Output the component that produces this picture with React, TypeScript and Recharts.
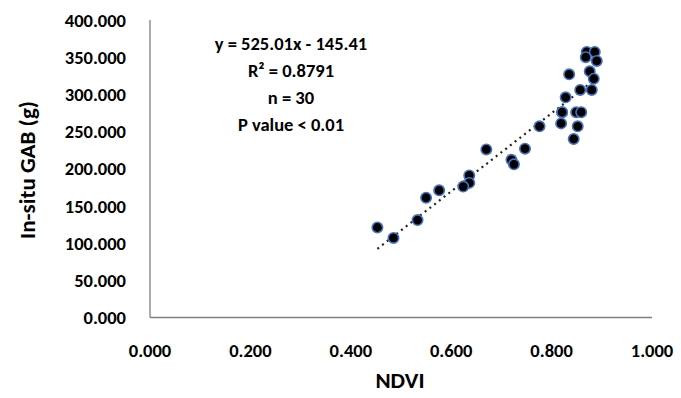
import React from 'react';
import { ScatterChart, Scatter, XAxis, YAxis, Label } from 'recharts';

const ndvi = [0.870, 0.886, 0.868, 0.890, 0.835, 0.876, 0.884, 0.857, 0.880, 0.828,
  0.821, 0.849, 0.859, 0.819, 0.852, 0.844, 0.776, 0.747, 0.670, 0.720,
  0.725, 0.636, 0.636, 0.624, 0.576, 0.550, 0.533, 0.453, 0.485, 0.821];
const gab = [357, 357, 350, 345, 327, 331, 321, 306, 306, 296,
  276, 276, 276, 261, 257, 240, 257, 227, 226, 212,
  206, 191, 181, 176, 171, 161, 131, 121, 107, 276];
const xTicks = [0, 0.2, 0.4, 0.6, 0.8, 1.0];
const yTicks = [0, 50, 100, 150, 200, 250, 300, 350, 400];
const slope = 525.01;
const intercept = -145.41;
const statLines = ['y = 525.01x - 145.41', 'R² = 0.8791', 'n = 30', 'P value < 0.01'];

const points = ndvi.map((x, i) => ({ x, y: gab[i] }));
const xMin = Math.min(...ndvi);
const xMax = Math.max(...ndvi);
const trend = [
  { x: xMin, y: slope * xMin + intercept },
  { x: xMax, y: slope * xMax + intercept },
];

const FONT = 'Carlito, Calibri, Lato, "DejaVu Sans", sans-serif';
const AXIS = '#7f7f7f';

const Dot = (props: any) => {
  const { cx, cy } = props;
  if (cx == null || cy == null) return null;
  return <circle cx={cx} cy={cy} r={5.2} fill="#000" stroke="#4472C4" strokeWidth={1.6} />;
};

export default function App() {
  return (
    <div style={{ position: 'absolute', left: 0, top: 0, width: 681, height: 398, background: '#fff' }}>
      <ScatterChart width={681} height={398} margin={{ top: 20, right: 29, bottom: 0, left: 0 }}>
        <XAxis
          type="number"
          dataKey="x"
          domain={[0, 1]}
          ticks={xTicks}
          tickFormatter={(v: number) => v.toFixed(3)}
          tickLine={false}
          tickSize={0}
          tickMargin={26}
          axisLine={{ stroke: AXIS, strokeWidth: 1.3 }}
          tick={{ fill: '#000', fontSize: 18.5, fontWeight: 700, fontFamily: FONT }}
          height={80.5}
          interval={0}
        >
          <Label
            content={() => (
              <text x={400} y={388} textAnchor="middle" fill="#000" fontSize={23} fontWeight={700} fontFamily={FONT}>
                NDVI
              </text>
            )}
          />
        </XAxis>
        <YAxis
          type="number"
          dataKey="y"
          domain={[0, 400]}
          ticks={yTicks}
          tickFormatter={(v: number) => v.toFixed(3)}
          tickLine={false}
          tickSize={0}
          tickMargin={24}
          axisLine={{ stroke: AXIS, strokeWidth: 1.3 }}
          tick={{ fill: '#000', fontSize: 18.5, fontWeight: 700, fontFamily: FONT }}
          width={150}
          interval={0}
        >
          <Label
            content={() => (
              <text
                x={35}
                y={170}
                transform="rotate(-90 35 170)"
                textAnchor="middle"
                fill="#000"
                fontSize={23}
                fontWeight={700}
                fontFamily={FONT}
              >
                In-situ GAB (g)
              </text>
            )}
          />
        </YAxis>
        <Scatter
          data={trend}
          line={{ stroke: '#222', strokeWidth: 2.2, strokeDasharray: '2 4' }}
          shape={() => null}
          isAnimationActive={false}
        />
        <Scatter data={points} shape={<Dot />} isAnimationActive={false} />
      </ScatterChart>
      <div
        style={{
          position: 'absolute',
          left: 181,
          top: 30,
          width: 220,
          textAlign: 'center',
          fontFamily: FONT,
          fontWeight: 700,
          fontSize: 18.5,
          lineHeight: '27px',
          color: '#000',
        }}
      >
        {statLines.map((s, i) => (
          <div key={i}>{s}</div>
        ))}
      </div>
    </div>
  );
}
